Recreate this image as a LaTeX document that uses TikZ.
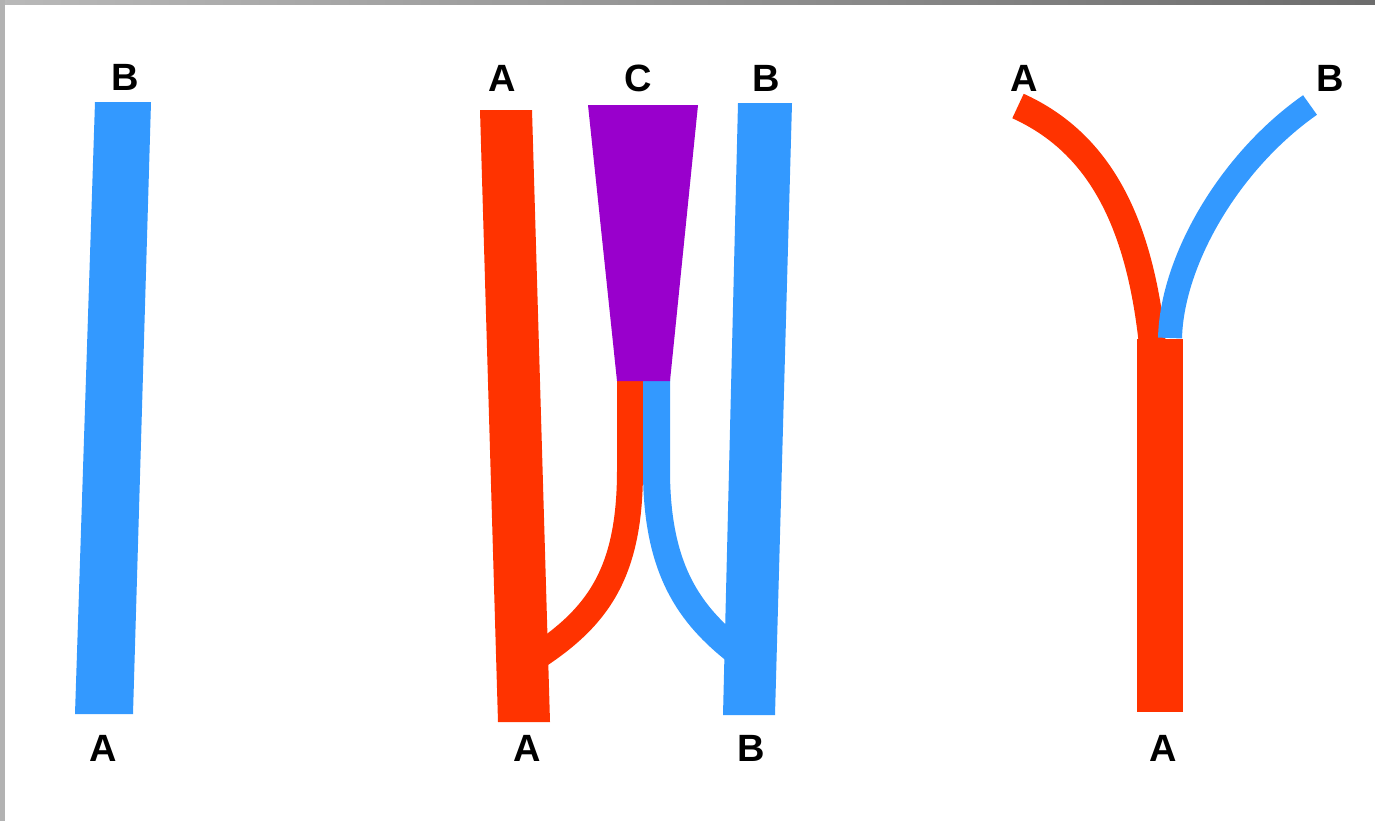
\documentclass[tikz,border=0pt]{standalone}
\usepackage{fontspec}
\setmainfont{Liberation Sans}
\begin{document}
\begin{tikzpicture}[x=0.5pt,y=-0.5pt,
  lab/.style={font=\fontsize{19}{19}\selectfont\bfseries, text=black, inner sep=0pt}]
\definecolor{myred}{HTML}{FF3300}
\definecolor{myblue}{HTML}{3399FF}
\definecolor{mypurple}{HTML}{9900CC}
\useasboundingbox (0,0) rectangle (1375,821);
\fill[white] (0,0) rectangle (1375,821);
% grey frame
\shade[left color=gray!55, right color=gray!85!black] (0,0) rectangle (1375,4);
\fill[gray!60] (0,0) rectangle (5,821);
% left panel
\fill[myblue] (95,102) -- (151,102) -- (133,714) -- (75,714) -- cycle;
\node[lab] (lB) at (125,77) {B};
\node[lab] (lA) at (103,748) {A};
% middle panel
\fill[myred] (480,110) -- (532,110) -- (550,722) -- (498,722) -- cycle;
\fill[myblue] (738,103) -- (792,103) -- (775,715) -- (723,715) -- cycle;
\draw[myred, line width=13pt] (630,379) -- (630,470) .. controls (630,570) and (600,615) .. (538,656);
\draw[myblue, line width=13.5pt] (656.5,379) -- (656.5,470) .. controls (656.5,570) and (690,615) .. (737,652);
\fill[mypurple] (588,105) -- (698,105) -- (670,381) -- (617,381) -- cycle;
\node[lab] (mA) at (502,78) {A};
\node[lab] (mC) at (638,78) {C};
\node[lab] (mB) at (766,78) {B};
\node[lab] (mA2) at (527,748) {A};
\node[lab] (mB2) at (751,748) {B};
% right panel
\draw[myred, line width=13.5pt] (1018,106) .. controls (1095,141) and (1140,215) .. (1153,350);
\draw[myblue, line width=12pt] (1170,338) .. controls (1172,260) and (1230,161) .. (1310,105);
\fill[myred] (1137,339) rectangle (1183,712);
\node[lab] (rA) at (1024,78) {A};
\node[lab] (rB) at (1330,78) {B};
\node[lab] (rA2) at (1163,748) {A};
\end{tikzpicture}
\end{document}
